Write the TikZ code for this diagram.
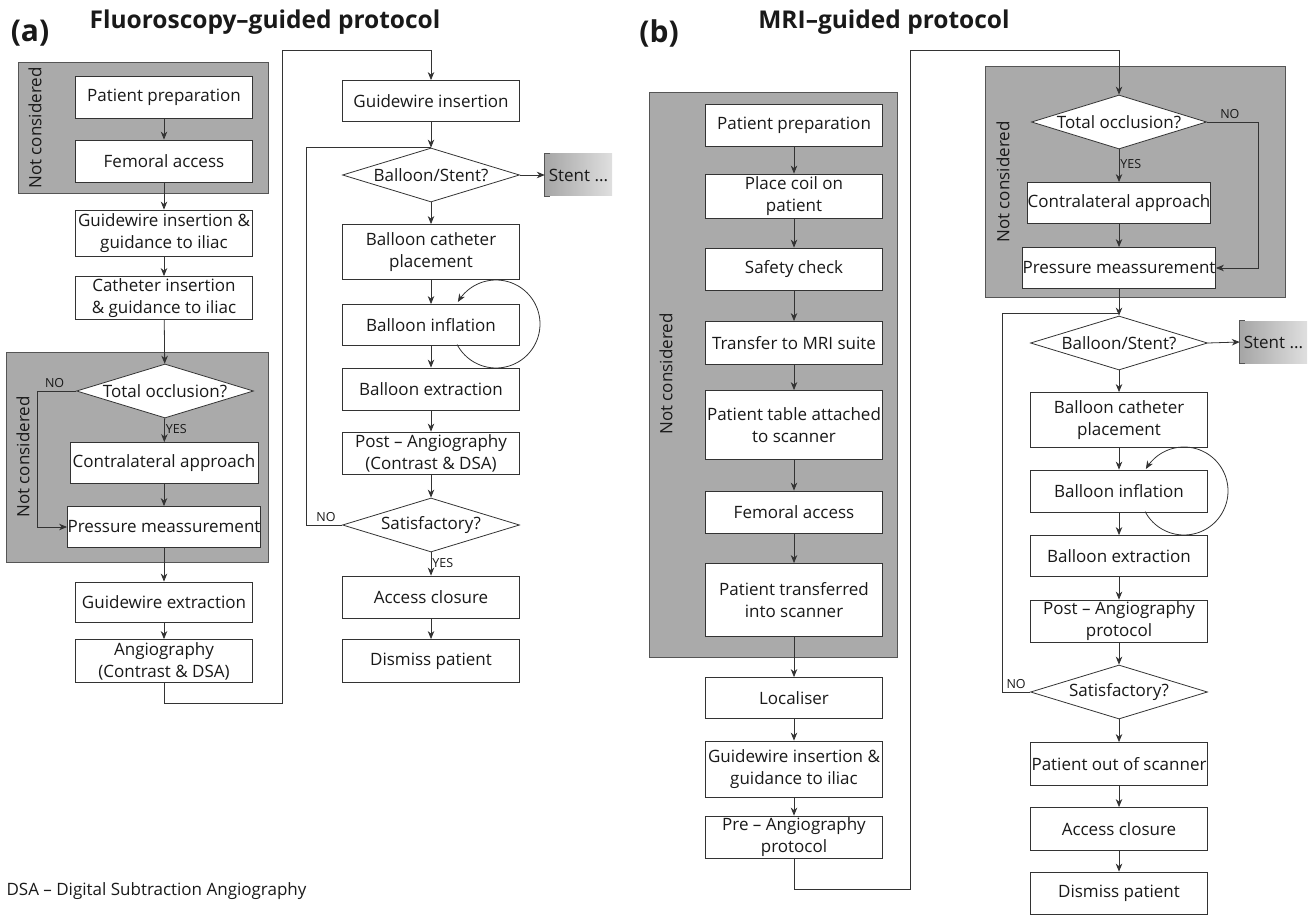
\documentclass[tikz,border=0pt]{standalone}
\usepackage{fontspec}
\setmainfont{Open Sans}
\usetikzlibrary{shapes.geometric,arrows.meta}
\definecolor{linec}{HTML}{333333}
\definecolor{grpfill}{HTML}{AAAAAA}
\definecolor{grpline}{HTML}{555555}
\begin{document}
\begin{tikzpicture}[x=1pt,y=-1pt,
 every node/.style={font=\fontsize{17}{22}\selectfont, text=black!90},
 stepbox/.style={draw=linec, line width=0.8pt, fill=white, minimum width=177pt, minimum height=42pt, inner sep=0pt, align=center},
 dec/.style={draw=linec, line width=0.8pt, fill=white, shape=diamond, minimum width=177pt, minimum height=54pt, inner sep=0pt},
 grp/.style={draw=grpline, line width=0.8pt, fill=grpfill, inner sep=0pt},
 stentbox/.style={left color=gray!70, right color=gray!25, minimum width=67pt, minimum height=42pt, inner sep=1pt},
 arr/.style={draw=linec, line width=0.8pt, -{Stealth[length=8pt,width=6.5pt,inset=2.5pt]}},
 ln/.style={draw=linec, line width=0.8pt},
 lab/.style={font=\fontsize{12.5}{14}\selectfont},
 vlab/.style={rotate=90, font=\fontsize{17}{22}\selectfont},
 ttl/.style={font=\fontsize{24.5}{28}\bfseries\selectfont},
 pan/.style={font=\fontsize{30}{32}\bfseries\selectfont},
]
\useasboundingbox (0,0) rectangle (1311,917);

% ---------- titles ----------
\node[pan] (pa) at (30,33) {(a)};
\node[ttl] (ta) at (265,22) {Fluoroscopy–guided protocol};
\node[pan] (pb) at (659,33) {(b)};
\node[ttl] (tb) at (884,22) {MRI–guided protocol};
\node[anchor=west] (foot) at (3,891) {DSA – Digital Subtraction Angiography};

% ---------- group backgrounds ----------
\node[grp, minimum width=250pt, minimum height=131pt] (g1) at (143,127.5) {};
\node[grp, minimum width=262pt, minimum height=210pt] (g2) at (137,457) {};
\node[grp, minimum width=248pt, minimum height=565pt] (g3) at (773,374.5) {};
\node[grp, minimum width=300pt, minimum height=231pt] (g4) at (1135,181.5) {};
\node[vlab] (v1) at (35,128) {Not considered};
\node[vlab] (v2) at (23,457) {Not considered};
\node[vlab] (v3) at (666,374) {Not considered};
\node[vlab] (v4) at (1003,182) {Not considered};

% ---------- panel (a), left column ----------
\node[stepbox] (pp1) at (164,97) {Patient preparation};
\node[stepbox] (fa1) at (164,161) {Femoral access};
\node[stepbox, minimum height=46pt] (gw1) at (164,233) {Guidewire insertion \&\\guidance to iliac};
\node[stepbox, minimum height=43pt] (ci1) at (164,298) {Catheter insertion\\\& guidance to iliac};
\node[dec] (to1) at (165,391) {};
\node (to1t) at (to1) {Total occlusion?};
\node[stepbox, minimum width=188pt, minimum height=41pt] (con1) at (164,463) {Contralateral approach};
\node[stepbox, minimum width=188pt, minimum height=41pt] (pm1) at (164,527) {Pressure meassurement};
\node[stepbox, minimum height=40pt] (gwe1) at (164,602) {Guidewire extraction};
\node[stepbox, minimum height=43pt] (ang1) at (164,661) {Angiography\\(Contrast \& DSA)};

% ---------- panel (a), right column ----------
\node[stepbox, minimum height=41pt] (gwi1) at (431,101) {Guidewire insertion};
\node[dec] (bs1) at (431,175) {};
\node (bs1t) at (bs1) {Balloon/Stent?};
\node[stentbox] (st1) at (578.5,175) {Stent ...};
\node[stepbox, minimum height=55pt] (bcp1) at (431,252) {Balloon catheter\\placement};
\node[stepbox, minimum height=41pt] (bi1) at (431,325) {Balloon inflation};
\node[stepbox] (be1) at (431,389) {Balloon extraction};
\node[stepbox] (pa1) at (431,453) {Post – Angiography\\(Contrast \& DSA)};
\node[dec] (sat1) at (431,525) {};
\node (sat1t) at (sat1) {Satisfactory?};
\node[stepbox] (ac1) at (431,597) {Access closure};
\node[stepbox, minimum height=43pt] (dp1) at (431,661) {Dismiss patient};

% ---------- panel (b), left column ----------
\node[stepbox] (pp2) at (794,125) {Patient preparation};
\node[stepbox, minimum height=44pt] (pc2) at (794,196) {Place coil on\\patient};
\node[stepbox] (sc2) at (794,269) {Safety check};
\node[stepbox, minimum height=43pt] (tm2) at (794,343) {Transfer to MRI suite};
\node[stepbox, minimum height=69pt] (pt2) at (794,425) {Patient table attached\\to scanner};
\node[stepbox] (fa2) at (794,512) {Femoral access};
\node[stepbox, minimum height=73pt] (ptr2) at (794,600) {Patient transferred\\into scanner};
\node[stepbox, minimum height=41pt] (loc2) at (794,698) {Localiser};
\node[stepbox, minimum height=56pt] (gw2) at (794,769) {Guidewire insertion \&\\guidance to iliac};
\node[stepbox] (pre2) at (794,837) {Pre – Angiography\\protocol};

% ---------- panel (b), right column ----------
\node[dec, minimum width=175pt] (to2) at (1119,122) {};
\node (to2t) at (to2) {Total occlusion?};
\node[stepbox, minimum width=178pt, minimum height=41pt] (con2) at (1119,203) {Contralateral approach};
\node[stepbox, minimum width=192pt, minimum height=41pt] (pm2) at (1119,268) {Pressure meassurement};
\node[dec] (bs2) at (1119,343) {};
\node (bs2t) at (bs2) {Balloon/Stent?};
\node[stentbox] (st2) at (1273.5,342) {Stent ...};
\node[stepbox, minimum height=55pt] (bcp2) at (1119,420) {Balloon catheter\\placement};
\node[stepbox] (bi2) at (1119,491) {Balloon inflation};
\node[stepbox, minimum height=41pt] (be2) at (1119,556) {Balloon extraction};
\node[stepbox] (pa2) at (1119,621) {Post – Angiography\\protocol};
\node[dec] (sat2) at (1119,692) {};
\node (sat2t) at (sat2) {Satisfactory?};
\node[stepbox, minimum height=43pt] (po2) at (1119,764) {Patient out of scanner};
\node[stepbox, minimum height=43pt] (ac2) at (1119,829) {Access closure};
\node[stepbox] (dp2) at (1119,893) {Dismiss patient};

% stent brackets
\foreach \s in {st1,st2}{
  \draw[grpline, line width=1.3pt] ([xshift=5pt]\s.north west) -- (\s.north west) -- (\s.south west) -- ([xshift=5pt]\s.south west);
}

% ---------- connectors (a) ----------
\draw[arr] (pp1) -- (fa1);
\draw[arr] (fa1) -- (gw1);
\draw[arr] (gw1) -- (ci1);
\draw[arr] (ci1) -- (to1);
\draw[arr] (to1) -- node[lab, right, pos=0.45, inner sep=1pt] {YES} (con1);
\draw[arr] (con1) -- (pm1);
\draw[arr] (to1.west) -- ++(-39,0) node[lab, above, pos=0.55] {NO} |- (pm1.west);
\draw[arr] (pm1) -- (gwe1);
\draw[arr] (gwe1) -- (ang1);
\draw[arr] (ang1.south) |- (282,703) -- (282,50) -| (gwi1.north);
\coordinate (j1) at (431,147);
\draw[arr] (gwi1) -- (bs1);
\draw[arr] (bs1.east) -- (st1.west);
\draw[arr] (bs1) -- (bcp1);
\draw[arr] (bcp1) -- (bi1);
\draw[arr] (bi1) -- (be1);
\draw[arr] (be1) -- (pa1);
\draw[arr] (pa1) -- (sat1);
\draw[arr] (sat1) -- node[lab, right, pos=0.45, inner sep=1pt] {YES} (ac1);
\draw[arr] (ac1) -- (dp1);
\draw[ln] (sat1.west) -- ++(-36,0) node[lab, above, pos=0.45] {NO} |- (j1);
\draw[arr] plot[domain=152:-150, samples=90, smooth] ({496+44*cos(\x)},{324+44*sin(\x)});

% ---------- connectors (b) ----------
\draw[arr] (pp2) -- (pc2);
\draw[arr] (pc2) -- (sc2);
\draw[arr] (sc2) -- (tm2);
\draw[arr] (tm2) -- (pt2);
\draw[arr] (pt2) -- (fa2);
\draw[arr] (fa2) -- (ptr2);
\draw[arr] (ptr2) -- (loc2);
\draw[arr] (loc2) -- (gw2);
\draw[arr] (gw2) -- (pre2);
\draw[arr] (pre2.south) |- (910,889) -- (910,50) -| (to2.north);
\draw[arr] (to2) -- node[lab, right, pos=0.45, inner sep=1pt] {YES} (con2);
\draw[arr] (con2) -- (pm2);
\draw[arr] (to2.east) -- ++(51,0) node[lab, above, pos=0.45] {NO} |- (pm2.east);
\coordinate (j2) at (1119,313);
\draw[arr] (pm2) -- (bs2);
\draw[arr] (bs2.east) -- (st2.west);
\draw[arr] (bs2) -- (bcp2);
\draw[arr] (bcp2) -- (bi2);
\draw[arr] (bi2) -- (be2);
\draw[arr] (be2) -- (pa2);
\draw[arr] (pa2) -- (sat2);
\draw[arr] (sat2) -- (po2);
\draw[arr] (po2) -- (ac2);
\draw[arr] (ac2) -- (dp2);
\draw[ln] (sat2.west) -- ++(-28,0) node[lab, above, pos=0.5] {NO} |- (j2);
\draw[arr] plot[domain=152:-150, samples=90, smooth] ({1184+44*cos(\x)},{491+44*sin(\x)});
\end{tikzpicture}
\end{document}
